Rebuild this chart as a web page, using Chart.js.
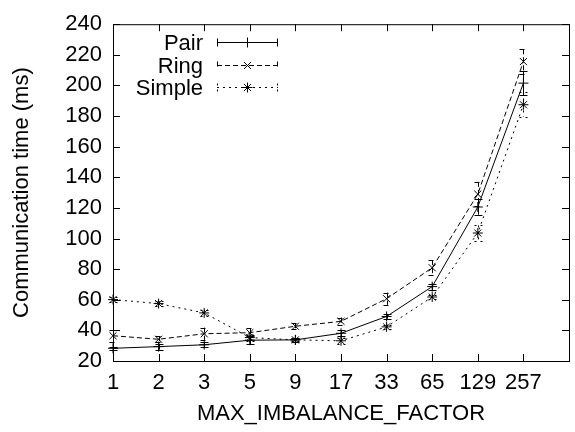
<!DOCTYPE html>
<html>
<head>
<meta charset="utf-8">
<script src="https://cdn.jsdelivr.net/npm/chart.js@4.4.0/dist/chart.umd.min.js"></script>
<style>
  html, body { margin: 0; padding: 0; background: #fff; overflow: hidden; }
  #wrap { width: 578px; height: 432px; }
</style>
</head>
<body>
<div id="wrap"><canvas id="chart" width="578" height="432"></canvas></div>
<script>
// MAX_IMBALANCE_FACTOR values along the x axis
const factors = ['1', '2', '3', '5', '9', '17', '33', '65', '129', '257'];

// mean communication time (ms) and error per series
const pairTime   = [28.3, 29.4, 30.6, 33.6, 33.8, 38.1, 49.1, 68.6, 120.6, 201.5];
const pairErr    = [1, 2, 1.5, 2.5, 1.5, 2, 1.5, 2, 5, 8];
const ringTime   = [36.5, 34.2, 37.8, 38.5, 42.7, 45.9, 60.7, 80.9, 129, 215.6];
const ringErr    = [4, 2, 4, 3, 2, 2.5, 4, 5, 8, 8];
const simpleTime = [60.1, 57.5, 51.4, 35.3, 33.8, 33.2, 42.3, 61.8, 103.6, 187.4];
const simpleErr  = [1.5, 1.5, 2, 2, 1, 2, 1.5, 1.5, 5, 8];

const yTicks = { min: 20, max: 240, step: 20 };

const FONT = { family: '"Liberation Sans", Arial, sans-serif', size: 22 };

function series(label, values, errs, dash, style) {
	return {
		label: label,
		data: values.map((v, i) => ({ x: i, y: v })),
		errors: errs,
		borderColor: '#000',
		backgroundColor: '#000',
		borderWidth: 1,
		borderDash: dash,
		pointStyle: style,
		pointRadius: 5,
		pointBorderWidth: 1,
		pointBorderColor: '#000',
		tension: 0,
		clip: false
	};
}

// gnuplot style frame with inward ticks on all four sides
const framePlugin = {
	id: 'frame',
	beforeDatasetsDraw(chart) {
		const ctx = chart.ctx, a = chart.chartArea;
		const xs = chart.scales.x, ys = chart.scales.y;
		const len = 7;
		ctx.save();
		ctx.strokeStyle = '#000';
		ctx.lineWidth = 1;
		ctx.setLineDash([]);
		ctx.strokeRect(a.left + 0.5, a.top + 0.5, a.right - a.left, a.bottom - a.top);
		ctx.beginPath();
		ys.ticks.forEach(t => {
			const y = Math.round(ys.getPixelForValue(t.value)) + 0.5;
			ctx.moveTo(a.left, y); ctx.lineTo(a.left + len, y);
			ctx.moveTo(a.right, y); ctx.lineTo(a.right - len, y);
		});
		xs.ticks.forEach(t => {
			const x = Math.round(xs.getPixelForValue(t.value)) + 0.5;
			ctx.moveTo(x, a.bottom); ctx.lineTo(x, a.bottom - len);
			ctx.moveTo(x, a.top); ctx.lineTo(x, a.top + len);
		});
		ctx.stroke();
		ctx.restore();
	}
};

// vertical error bars with caps, drawn in each series' own dash pattern
const errorBarPlugin = {
	id: 'errorBars',
	afterDatasetsDraw(chart) {
		const ctx = chart.ctx, ys = chart.scales.y;
		const cap = 4;
		ctx.save();
		ctx.strokeStyle = '#000';
		ctx.lineWidth = 1;
		chart.data.datasets.forEach((ds, di) => {
			const meta = chart.getDatasetMeta(di);
			ctx.setLineDash(ds.borderDash || []);
			ctx.beginPath();
			meta.data.forEach((pt, i) => {
				const v = ds.data[i].y, e = ds.errors[i];
				const x = Math.round(pt.x) + 0.5;
				const y1 = ys.getPixelForValue(v + e);
				const y2 = ys.getPixelForValue(v - e);
				ctx.moveTo(x, y1); ctx.lineTo(x, y2);
				ctx.moveTo(x - cap, Math.round(y1) + 0.5); ctx.lineTo(x + cap, Math.round(y1) + 0.5);
				ctx.moveTo(x - cap, Math.round(y2) + 0.5); ctx.lineTo(x + cap, Math.round(y2) + 0.5);
			});
			ctx.stroke();
		});
		ctx.restore();
	}
};

// key in the upper left: label, then a sample segment with caps and marker
const keyPlugin = {
	id: 'key',
	afterDraw(chart) {
		const ctx = chart.ctx, a = chart.chartArea;
		const textRight = a.left + 90;
		const x1 = a.left + 104, x2 = a.left + 165;
		ctx.save();
		ctx.font = FONT.size + 'px ' + FONT.family;
		ctx.fillStyle = '#000';
		ctx.strokeStyle = '#000';
		ctx.lineWidth = 1;
		ctx.textAlign = 'right';
		ctx.textBaseline = 'middle';
		chart.data.datasets.forEach((ds, i) => {
			const y = Math.round(a.top + 18 + i * 22.3) + 0.5;
			ctx.setLineDash([]);
			ctx.fillText(ds.label, textRight, y + 1);
			ctx.setLineDash(ds.borderDash || []);
			ctx.beginPath();
			ctx.moveTo(x1, y); ctx.lineTo(x2, y);
			ctx.moveTo(x1 + 0.5, y - 4); ctx.lineTo(x1 + 0.5, y + 4);
			ctx.moveTo(x2 - 0.5, y - 4); ctx.lineTo(x2 - 0.5, y + 4);
			ctx.stroke();
			ctx.setLineDash([]);
			Chart.helpers.drawPoint(ctx, {
				pointStyle: ds.pointStyle, radius: 5, rotation: 0, borderWidth: 1
			}, (x1 + x2) / 2, y);
		});
		ctx.restore();
	}
};

new Chart(document.getElementById('chart').getContext('2d'), {
	type: 'line',
	data: {
		datasets: [
			series('Pair', pairTime, pairErr, [], 'cross'),
			series('Ring', ringTime, ringErr, [5, 3], 'crossRot'),
			series('Simple', simpleTime, simpleErr, [2, 4], 'star')
		]
	},
	options: {
		responsive: false,
		animation: false,
		devicePixelRatio: 1,
		layout: { padding: { left: 0, top: 15, right: 2, bottom: 0 } },
		plugins: {
			legend: { display: false },
			tooltip: { enabled: false }
		},
		scales: {
			x: {
				type: 'linear',
				min: 0,
				max: factors.length,
				afterFit: s => { s.height = 71; },
				grid: { display: false, drawTicks: false },
				border: { display: false },
				ticks: {
					stepSize: 1,
					autoSkip: false,
					maxRotation: 0,
					padding: 9,
					color: '#000',
					font: FONT,
					callback: v => factors[v] ?? ''
				},
				title: {
					display: true,
					text: 'MAX_IMBALANCE_FACTOR',
					color: '#000',
					font: FONT,
					padding: { top: 0, bottom: 5 }
				}
			},
			y: {
				min: yTicks.min,
				max: yTicks.max,
				afterFit: s => { s.width = 113; },
				grid: { display: false, drawTicks: false },
				border: { display: false },
				ticks: {
					stepSize: yTicks.step,
					padding: 11,
					color: '#000',
					font: FONT
				},
				title: {
					display: true,
					text: 'Communication time (ms)',
					color: '#000',
					font: FONT,
					padding: { top: 9, bottom: 0 }
				}
			}
		}
	},
	plugins: [framePlugin, errorBarPlugin, keyPlugin]
});
</script>
</body>
</html>
